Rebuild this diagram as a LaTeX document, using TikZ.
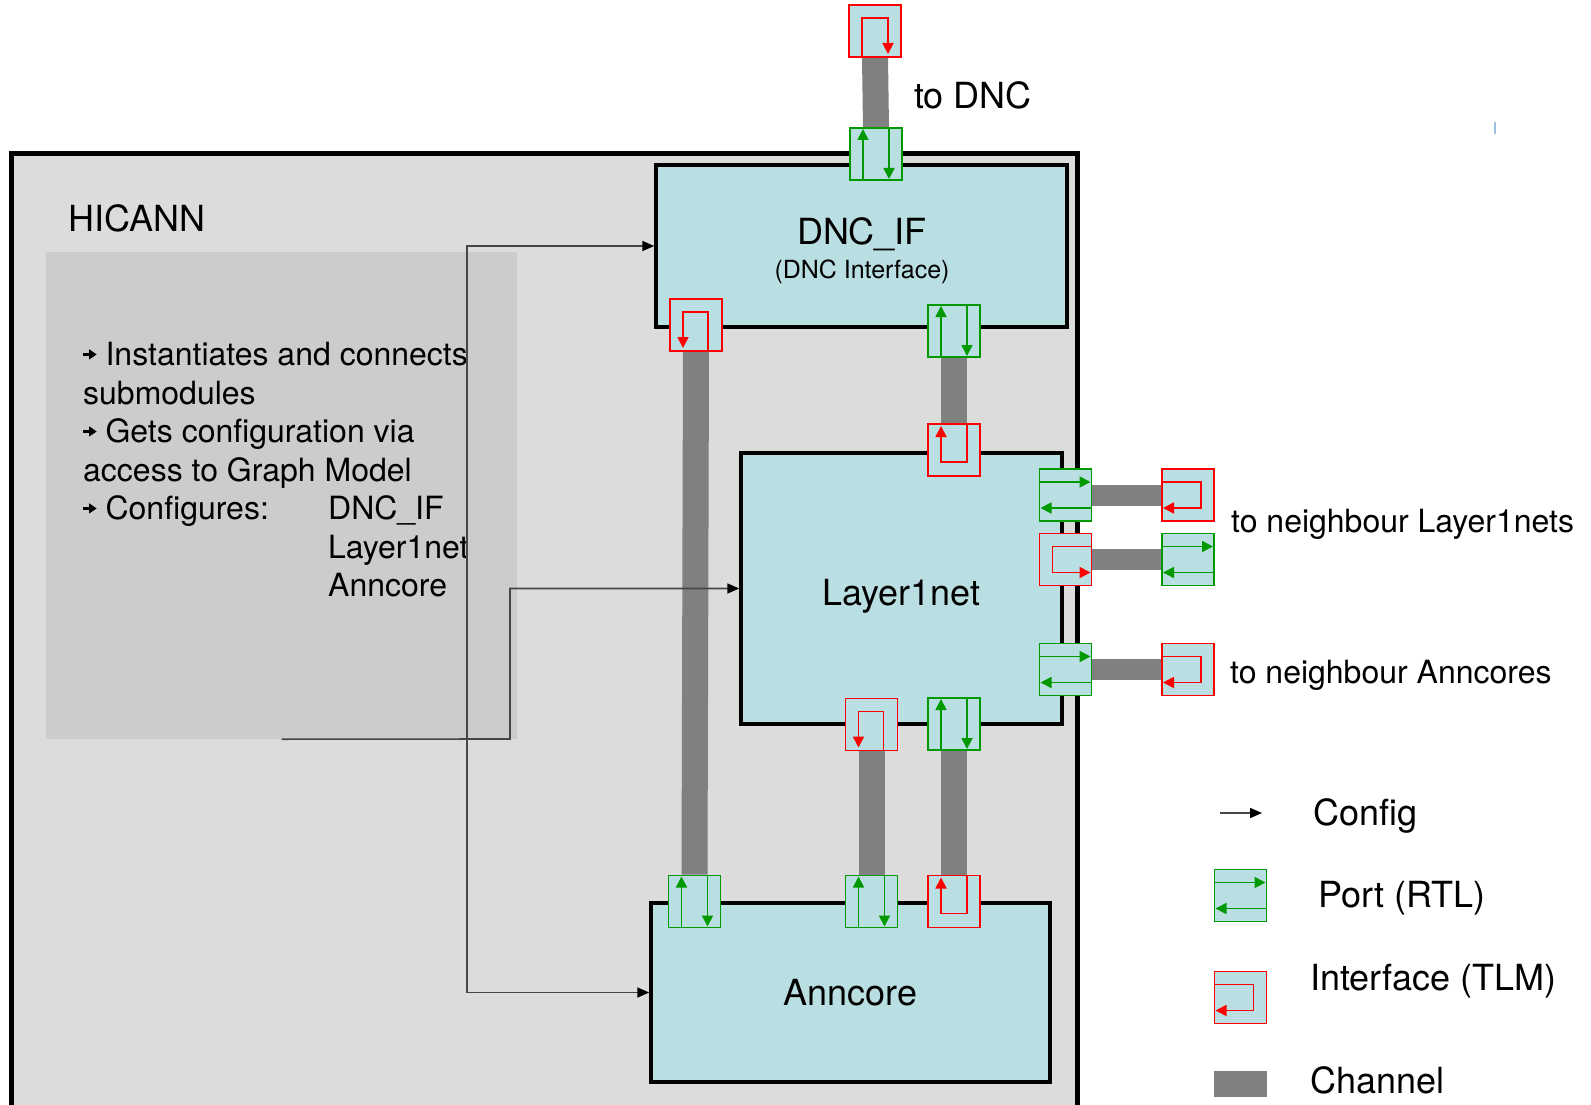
\documentclass[tikz,border=0pt]{standalone}
\usepackage{fontspec}
\setmainfont{TeX Gyre Heros}
\usetikzlibrary{arrows.meta}
\definecolor{boxcyan}{RGB}{186,223,227}
\definecolor{framegray}{RGB}{220,220,220}
\definecolor{panelgray}{RGB}{204,204,204}
\definecolor{changray}{RGB}{128,128,128}
\definecolor{portgreen}{RGB}{0,153,0}
\definecolor{ifred}{RGB}{255,0,0}
\definecolor{cfgline}{RGB}{70,70,70}
\definecolor{tickblue}{RGB}{160,190,225}
\pgfdeclarelayer{base}
\pgfdeclarelayer{chan}
\pgfsetlayers{base,chan,main}
\newcommand{\cfgbullet}{\tikz[baseline=0pt]{\fill (0pt,10pt) rectangle (7pt,12.2pt); \fill (6pt,6pt) -- (13.5pt,11.1pt) -- (6pt,16.2pt) -- cycle;}}
\tikzset{
  hicann/.style={draw=black, line width=5pt, fill=framegray, inner sep=0pt},
  panel/.style={fill=panelgray, inner sep=0pt},
  blk/.style={draw=black, line width=3.5pt, fill=boxcyan, inner sep=0pt, font=\fontsize{36}{40}\selectfont},
  lbl/.style={inner sep=0pt, font=\fontsize{36}{40}\selectfont},
  sublbl/.style={inner sep=0pt, font=\fontsize{25}{28}\selectfont},
  sidelbl/.style={inner sep=0pt, font=\fontsize{32}{36}\selectfont},
  paneltxt/.style={inner sep=0pt, align=left, font=\fontsize{32}{38.5}\selectfont},
  portbox/.style={draw=portgreen, line width=1.6pt, fill=boxcyan, minimum size=52pt, inner sep=0pt},
  ifbox/.style={draw=ifred, line width=1.6pt, fill=boxcyan, minimum size=52pt, inner sep=0pt},
  garr/.style={portgreen, line width=1.8pt, -{Triangle[length=11pt,width=11pt]}},
  rarr/.style={ifred, line width=1.8pt, -{Triangle[length=11pt,width=11pt]}},
  chan/.style={changray, line width=26pt},
  hchan/.style={changray, line width=21pt},
  cfg/.style={cfgline, line width=1.6pt, -{Triangle[length=12pt,width=10pt,color=black]}},
  pics/vport/.style={code={
    \node[portbox] (-b) {};
    \draw[garr] (-13,26) -- (-13,-25);
    \draw[garr] (13,-26) -- (13,25);
  }},
  pics/hport/.style={code={
    \node[portbox] (-b) {};
    \draw[garr] (-26,-13) -- (25,-13);
    \draw[garr] (26,13) -- (-25,13);
  }},
  pics/iface/.style={code={
    \node[ifbox] (-b) {};
    \draw[rarr] #1;
  }}
}
\begin{document}
\begin{tikzpicture}[x=1pt,y=-1pt]
\useasboundingbox (0,0) rectangle (1591,1105);

% HICANN frame and task panel
\begin{pgfonlayer}{base}
\node[hicann, minimum width=1066pt, minimum height=966pt] (hicann) at (544,637) {};
\node[panel, minimum width=471pt, minimum height=487pt] (panel) at (281.5,495.5) {};
\end{pgfonlayer}
\node[lbl, anchor=base west] (title) at (68,231) {HICANN};
\node[paneltxt, anchor=north west] (tasks) at (83,342) {\cfgbullet\ Instantiates and connects\\
submodules\\
\cfgbullet\ Gets configuration via\\
access to Graph Model\\
\makebox[245pt][l]{\cfgbullet\ Configures:}DNC\_IF\\
\hspace*{245pt}Layer1net\\
\hspace*{245pt}Anncore};

% submodules
\node[blk, minimum width=411pt, minimum height=162pt] (dnc) at (861.5,246) {};
\node[lbl, anchor=base] (dnctitle) at (862,244) {DNC\_IF};
\node[sublbl, anchor=base] (dncsub) at (862,278) {(DNC Interface)};
\node[blk, minimum width=321pt, minimum height=271pt] (l1) at (901.5,588.5) {};
\node[lbl, anchor=base] (l1title) at (901.5,605) {Layer1net};
\node[blk, minimum width=399pt, minimum height=179pt] (ann) at (850.5,992.5) {Anncore};

% config
\coordinate (brA) at (467,739);
\coordinate (brB) at (510,739);
\draw[cfg] (panel.south) -- (brB) |- (l1.west);
\draw[cfg] (brA) |- (dnc.west);
\draw[cfg] (brA) |- (ann.west);

% ports and interfaces
\pic (dncif) at (875,31) {iface={(-13,26) |- (13,-13) -- (13,23)}};
\pic (dncport) at (876,154) {vport};
\pic (dncA) at (696,325) {iface={(12,26) |- (-13,-13) -- (-13,23)}};
\pic (dncB) at (954,331) {vport};
\pic (l1top) at (954,450) {iface={(13,-26) |- (-13,12) -- (-13,-24)}};
\pic (l1A) at (871.5,724.5) {iface={(12,26) |- (-13,-13) -- (-13,23)}};
\pic (l1B) at (954,724) {vport};
\pic (annA) at (694.5,901.5) {vport};
\pic (annB) at (871.5,901.5) {vport};
\pic (annC) at (954,901.5) {iface={(13,-26) |- (-13,12) -- (-13,-24)}};
\pic (l1e1) at (1065.5,495) {hport};
\pic (l1e2) at (1065.5,559.5) {iface={(26,-13) -| (-13,13) -- (25,13)}};
\pic (l1e3) at (1065.5,669.5) {hport};
\pic (nb1) at (1188,495) {iface={(-26,-13) -| (13,13) -- (-25,13)}};
\pic (nb2) at (1188,559.5) {hport};
\pic (nb3) at (1188,669.5) {iface={(-26,-13) -| (13,13) -- (-25,13)}};

% channels
\begin{pgfonlayer}{chan}
\draw[chan] (dncif-b.south) -- (dncport-b.north);
\draw[chan] (dncA-b.south) -- (annA-b.north);
\draw[chan] (dncB-b.south) -- (l1top-b.north);
\draw[chan] (l1A-b.south) -- (annB-b.north);
\draw[chan] (l1B-b.south) -- (annC-b.north);
\draw[hchan] (l1e1-b.east) -- (nb1-b.west);
\draw[hchan] (l1e2-b.east) -- (nb2-b.west);
\draw[hchan] (l1e3-b.east) -- (nb3-b.west);
\end{pgfonlayer}

\node[lbl, anchor=base west] (todnc) at (914,109) {to DNC};
\node[sidelbl, anchor=base west] (tol1) at (1231,532) {to neighbour Layer1nets};
\node[sidelbl, anchor=base west] (toann) at (1230,683) {to neighbour Anncores};
\draw[tickblue, line width=1.2pt] (1495,122) -- (1495,134);

% legend
\coordinate (lgA) at (1220,813);
\coordinate (lgB) at (1262,813);
\draw[cfg] (lgA) -- (lgB);
\pic (lgport) at (1240.5,895.5) {hport};
\pic (lgif) at (1240.5,997.5) {iface={(-26,-13) -| (13,13) -- (-25,13)}};
\node[fill=changray, minimum width=53pt, minimum height=26pt, inner sep=0pt] (lgchan) at (1240.5,1084) {};
\node[lbl, anchor=base west] (lgcfgt) at (1313,825) {Config};
\node[lbl, anchor=base west] (lgportt) at (1318,907) {Port (RTL)};
\node[lbl, anchor=base west] (lgift) at (1310,990) {Interface (TLM)};
\node[lbl, anchor=base west] (lgchant) at (1310,1093) {Channel};
\end{tikzpicture}
\end{document}
